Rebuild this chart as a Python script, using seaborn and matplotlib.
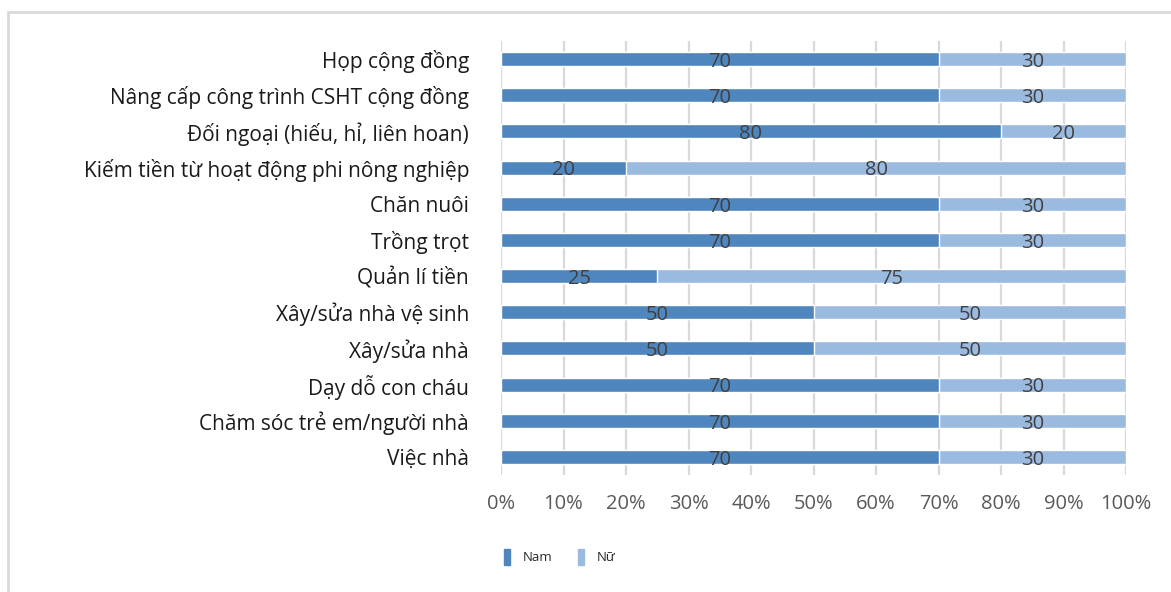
import pandas as pd
import numpy as np
import matplotlib.pyplot as plt
import seaborn as sns
from matplotlib.patches import Patch, Rectangle

# Data (top to bottom as shown)
categories = [
    "Họp cộng đồng",
    "Nâng cấp công trình CSHT cộng đồng",
    "Đối ngoại (hiếu, hỉ, liên hoan)",
    "Kiếm tiền từ hoạt động phi nông nghiệp",
    "Chăn nuôi",
    "Trồng trọt",
    "Quản lí tiền",
    "Xây/sửa nhà vệ sinh",
    "Xây/sửa nhà",
    "Dạy dỗ con cháu",
    "Chăm sóc trẻ em/người nhà",
    "Việc nhà",
]
nam = [70, 70, 80, 20, 70, 70, 25, 50, 50, 70, 70, 70]
nu = [30, 30, 20, 80, 30, 30, 75, 50, 50, 30, 30, 30]
ticks = ["0%", "10%", "20%", "30%", "40%", "50%", "60%", "70%", "80%", "90%", "100%"]

c_nam = "#4F86BD"
c_nu = "#9BBAE0"

df = pd.DataFrame({"cat": categories, "Nam": nam, "Nu": nu})
df["Total"] = df["Nam"] + df["Nu"]

sns.set_style("white")
plt.rcParams["font.family"] = ["Open Sans", "DejaVu Sans"]

fig = plt.figure(figsize=(11.71, 5.92), dpi=100)
ax = fig.add_axes([501 / 1171, 1 - 475 / 592, 625 / 1171, 434 / 592])

# stacked: full bar in light colour, Nam drawn on top
sns.barplot(data=df, y="cat", x="Total", color=c_nu, orient="h", width=0.39,
            ax=ax, saturation=1, zorder=2)
sns.barplot(data=df, y="cat", x="Nam", color=c_nam, orient="h", width=0.39,
            ax=ax, saturation=1, zorder=3)

for i, (a, b) in enumerate(zip(nam, nu)):
    ax.text(a / 2, i + 0.08, str(a), ha="center", va="center", fontsize=14.5,
            color="#404040", zorder=4)
    ax.text(a + b / 2, i + 0.08, str(b), ha="center", va="center", fontsize=14.5,
            color="#404040", zorder=4)

ax.set_xlim(0, 100)
ax.set_ylim(11.5, -0.5)
ax.set_xticks(np.arange(0, 101, 10))
ax.set_xticklabels(ticks)
ax.set_xlabel("")
ax.set_ylabel("")
ax.tick_params(axis="x", labelsize=14.5, labelcolor="#595959", length=0, pad=14)
ax.tick_params(axis="y", labelsize=15, labelcolor="#1a1a1a", length=0, pad=23)
for s in ax.spines.values():
    s.set_visible(False)
ax.xaxis.grid(True, color="#D9D9D9", linewidth=1.6)
ax.set_axisbelow(True)

handles = [Patch(color=c_nam, label="Nam"), Patch(color=c_nu, label="Nữ")]
fig.legend(handles=handles, loc="center left", bbox_to_anchor=(492 / 1171, 1 - 557 / 592),
           ncol=2, frameon=False, fontsize=9.5, handlelength=0.45, handleheight=1.6,
           handletextpad=1.0, columnspacing=1.9)

# outer chart border
fig.patches.append(Rectangle((8 / 1171, -0.05), 1.1, 1 - 12 / 592 + 0.05,
                             transform=fig.transFigure, fill=False,
                             edgecolor="#D9D9D9", linewidth=2))

fig.savefig("out.png", dpi=100)
